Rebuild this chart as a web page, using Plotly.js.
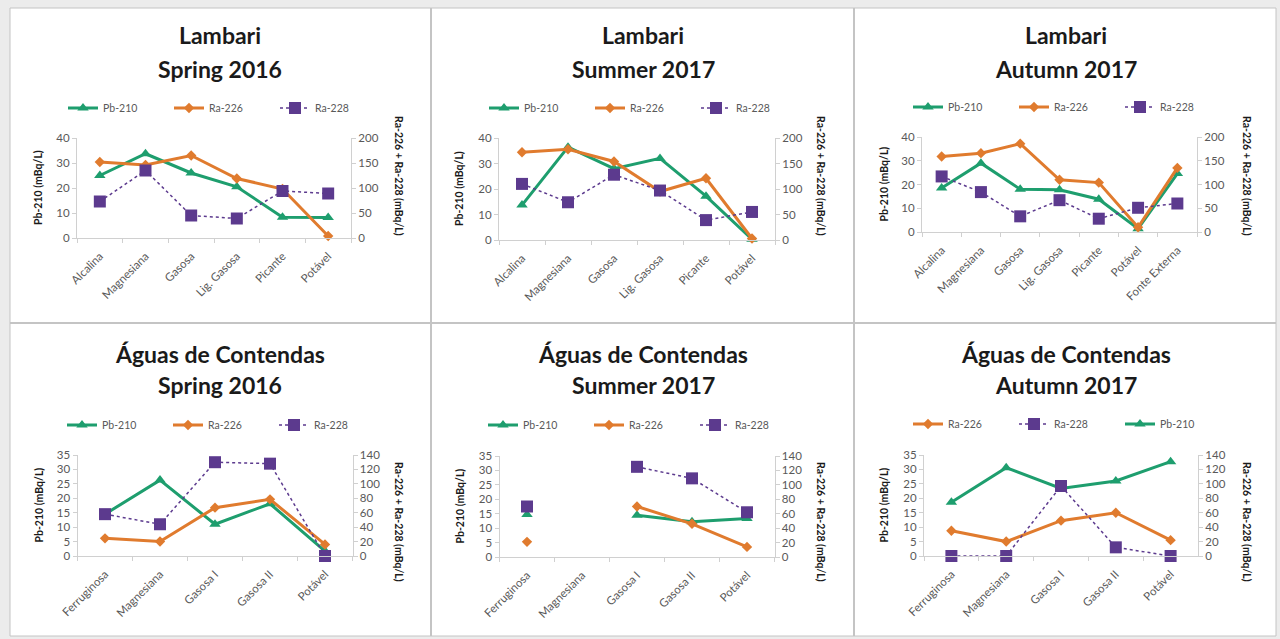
<!DOCTYPE html>
<html><head><meta charset="utf-8">
<script src="https://cdn.plot.ly/plotly-3.0.1.min.js"></script>
<style>html,body{margin:0;padding:0;background:#ececec;}#chart{width:1280px;height:639px;}</style>
</head><body><div id="chart"></div>
<script>
// ---- Data ----
const lambariCats = ['Alcalina','Magnesiana','Gasosa','Lig. Gasosa','Picante','Potável'];
const lambariCatsAutumn = ['Alcalina','Magnesiana','Gasosa','Lig. Gasosa','Picante','Potável','Fonte Externa'];
const contendasCats = ['Ferruginosa','Magnesiana','Gasosa I','Gasosa II','Potável'];

const pb210_lamSpr16 = [25, 33.7, 26, 20.5, 8.3, 8.2];
const ra226_lamSpr16 = [152, 146, 165, 119, 98, 4];
const ra228_lamSpr16 = [73, 135, 45, 39, 94, 89];

const pb210_lamSum17 = [13.7, 36.4, 28, 32, 17.2, 0.3];
const ra226_lamSum17 = [172, 178, 154, 95, 121, 3];
const ra228_lamSum17 = [110, 74, 128, 97, 39, 55];

const pb210_lamAut17 = [18.5, 29, 18, 17.8, 13.8, 1.4, 24.6];
const ra226_lamAut17 = [159, 166, 186, 110, 104, 10, 135];
const ra228_lamAut17 = [117, 84, 33, 67, 28, 51, 60];

const pb210_conSpr16 = [14.5, 26.3, 11, 18.1, 1.7];
const ra226_conSpr16 = [24.5, 20, 67, 78.5, 16];
const ra228_conSpr16 = [58, 44, 130, 128, 0];

const pb210_conSum17 = [14.7, null, 14.5, 12.2, 13.3];
const ra226_conSum17 = [21, null, 70, 46, 14];
const ra228_conSum17 = [70, null, 125, 109, 62];

const pb210_conAut17 = [18.6, 30.6, 23.4, 26, 32.7];
const ra226_conAut17 = [35, 20, 49, 60, 22];
const ra228_conAut17 = [0, 0, 97, 12, 0];

const titles1 = ['Lambari','Lambari','Lambari','Águas de Contendas','Águas de Contendas','Águas de Contendas'];
const titles2 = ['Spring 2016','Summer 2017','Autumn 2017','Spring 2016','Summer 2017','Autumn 2017'];
const leftTitle = 'Pb-210 (mBq/L)';
const rightTitle = 'Ra-226 + Ra-228 (mBq/L)';

// ---- Layout geometry ----
const W = 1280, H = 639;
const fx = x => x / W, fy = y => 1 - y / H;
const panels = [
  {cats: lambariCats, pb: pb210_lamSpr16, r6: ra226_lamSpr16, r8: ra228_lamSpr16, x0:77, x1:351, yb:238, yt:138, lmax:40, ld:10, rmax:200, rd:50, cx:220, t1:35, t2:69, legX:222, legY:108, ltx:38, rtx:399, rty:176, order:['pb','r6','r8']},
  {cats: lambariCats, pb: pb210_lamSum17, r6: ra226_lamSum17, r8: ra228_lamSum17, x0:499, x1:775, yb:240, yt:138, lmax:40, ld:10, rmax:200, rd:50, cx:643, t1:35, t2:69, legX:643, legY:108, ltx:459, rtx:821, rty:176, order:['pb','r6','r8']},
  {cats: lambariCatsAutumn, pb: pb210_lamAut17, r6: ra226_lamAut17, r8: ra228_lamAut17, x0:922, x1:1197, yb:232, yt:137, lmax:40, ld:10, rmax:200, rd:50, cx:1066, t1:35, t2:69, legX:1067, legY:107, ltx:883, rtx:1247, rty:176, order:['pb','r6','r8']},
  {cats: contendasCats, pb: pb210_conSpr16, r6: ra226_conSpr16, r8: ra228_conSpr16, x0:77.5, x1:352.5, yb:556, yt:455, lmax:35, ld:5, rmax:140, rd:20, cx:220, t1:354, t2:385, legX:221, legY:425, ltx:38, rtx:399, rty:522, order:['pb','r6','r8']},
  {cats: contendasCats, pb: pb210_conSum17, r6: ra226_conSum17, r8: ra228_conSum17, x0:499.5, x1:774.5, yb:557, yt:456, lmax:35, ld:5, rmax:140, rd:20, cx:643, t1:354, t2:385, legX:642, legY:425, ltx:459, rtx:821, rty:522, order:['pb','r6','r8']},
  {cats: contendasCats, pb: pb210_conAut17, r6: ra226_conAut17, r8: ra228_conAut17, x0:924, x1:1198, yb:556, yt:455, lmax:35, ld:5, rmax:140, rd:20, cx:1066, t1:354, t2:385, legX:1067, legY:424, ltx:883, rtx:1247, rty:522, order:['r6','r8','pb']}
];

const GREEN = '#1e9e6e', ORANGE = '#e07b2e', PURPLE = '#5c3a8e';
const FONT = 'Lato, "Open Sans", sans-serif';
const TICKC = '#595959', AXC = '#d0d0d0';

const traces = [];
const layout = {
  width: W, height: H, margin: {l:0, r:0, t:0, b:0},
  paper_bgcolor: '#ececec', plot_bgcolor: 'rgba(0,0,0,0)',
  font: {family: FONT, size: 10, color: TICKC},
  showlegend: true, annotations: [],
  shapes: [
    {type:'rect', xref:'paper', yref:'paper', x0:fx(10), x1:fx(1276), y0:fy(636), y1:fy(8), fillcolor:'#ffffff', line:{color:'#c4c4c4', width:1}, layer:'below'},
    {type:'line', xref:'paper', yref:'paper', x0:fx(431), x1:fx(431), y0:fy(636), y1:fy(8), line:{color:'#c4c4c4', width:2}, layer:'below'},
    {type:'line', xref:'paper', yref:'paper', x0:fx(854), x1:fx(854), y0:fy(636), y1:fy(8), line:{color:'#c4c4c4', width:2}, layer:'below'},
    {type:'line', xref:'paper', yref:'paper', x0:fx(10), x1:fx(1276), y0:fy(323), y1:fy(323), line:{color:'#c4c4c4', width:2}, layer:'below'}
  ]
};

panels.forEach((p, i) => {
  const n = i + 1;
  const xa = 'x' + (n === 1 ? '' : n);
  const yl = 'y' + (2*n - 1 === 1 ? '' : 2*n - 1);
  const yr = 'y' + (2*n);
  const legName = 'legend' + (n === 1 ? '' : n);
  const xKey = 'xaxis' + (n === 1 ? '' : n);
  const ylKey = 'yaxis' + (2*n - 1 === 1 ? '' : 2*n - 1);
  const yrKey = 'yaxis' + (2*n);

  layout[xKey] = {
    domain: [fx(p.x0), fx(p.x1)], anchor: yl, type: 'category',
    range: [-0.5, p.cats.length - 0.5], tickangle: -45,
    showline: true, linecolor: AXC, linewidth: 1, ticks: 'outside', tickson: 'boundaries',
    ticklen: 4, tickcolor: AXC, showgrid: false, zeroline: false, ticklabelstandoff: 6,
    tickfont: {family: FONT, size: 11.5, color: TICKC}, fixedrange: true
  };
  layout[ylKey] = {
    domain: [fy(p.yb), fy(p.yt)], anchor: xa, range: [0, p.lmax], dtick: p.ld,
    showline: true, linecolor: AXC, ticks: 'outside', ticklen: 4, tickcolor: AXC,
    showgrid: false, zeroline: false, tickfont: {family: FONT, size: 11.5, color: TICKC}, fixedrange: true
  };
  layout[yrKey] = {
    overlaying: yl, side: 'right', anchor: xa, range: [0, p.rmax], dtick: p.rd,
    showline: true, linecolor: AXC, ticks: 'outside', ticklen: 4, tickcolor: AXC,
    showgrid: false, zeroline: false, tickfont: {family: FONT, size: 11.5, color: TICKC}, fixedrange: true
  };
  layout[legName] = {
    orientation: 'h', x: fx(p.legX), y: fy(p.legY), xanchor: 'center', yanchor: 'middle',
    font: {family: FONT, size: 10.5, color: TICKC}, bgcolor: 'rgba(0,0,0,0)',
    itemwidth: 30, entrywidth: 61, entrywidthmode: 'pixels', tracegroupgap: 0, traceorder: 'normal'
  };

  const defs = {
    pb: {name: 'Pb-210', y: p.pb, yaxis: yl, line: {color: GREEN, width: 3}, marker: {symbol: 'triangle-up', size: 10, color: GREEN}},
    r6: {name: 'Ra-226', y: p.r6, yaxis: yr, line: {color: ORANGE, width: 3}, marker: {symbol: 'diamond', size: 8, color: ORANGE}},
    r8: {name: 'Ra-228', y: p.r8, yaxis: yr, line: {color: PURPLE, width: 1.5, dash: 'dot'}, marker: {symbol: 'square', size: 12, color: PURPLE}}
  };
  p.order.forEach(k => {
    const d = defs[k];
    traces.push({
      type: 'scatter', mode: 'lines+markers', x: p.cats, y: d.y, name: d.name,
      xaxis: xa, yaxis: d.yaxis, line: d.line, marker: d.marker,
      connectgaps: false, cliponaxis: false, legend: legName, hoverinfo: 'skip'
    });
  });

  layout.annotations.push(
    {xref:'paper', yref:'paper', x: fx(p.cx), y: fy(p.t1), text: '<b>' + titles1[i] + '</b>', showarrow:false, xanchor:'center', yanchor:'middle', font:{family: FONT, size: 23, color:'#1a1a1a'}},
    {xref:'paper', yref:'paper', x: fx(p.cx), y: fy(p.t2), text: '<b>' + titles2[i] + '</b>', showarrow:false, xanchor:'center', yanchor:'middle', font:{family: FONT, size: 23, color:'#1a1a1a'}},
    {xref:'paper', yref:'paper', x: fx(p.ltx), y: fy((p.yb + p.yt)/2), text: '<b>' + leftTitle + '</b>', textangle: -90, showarrow:false, xanchor:'center', yanchor:'middle', font:{family: FONT, size: 10.5, color:'#1a1a1a'}},
    {xref:'paper', yref:'paper', x: fx(p.rtx), y: fy(p.rty), text: '<b>' + rightTitle + '</b>', textangle: 90, showarrow:false, xanchor:'center', yanchor:'middle', font:{family: FONT, size: 10.5, color:'#1a1a1a'}}
  );
});

Plotly.newPlot('chart', traces, layout, {staticPlot: true, displayModeBar: false});
</script>
</body></html>
